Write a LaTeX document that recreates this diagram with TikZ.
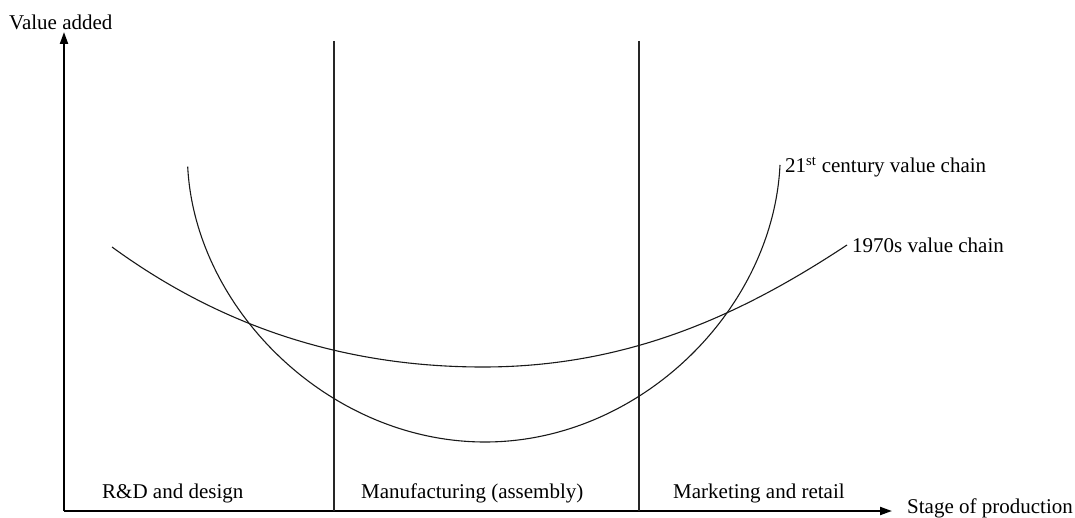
\documentclass[tikz,border=0pt]{standalone}
\usepackage{fontspec}
\setmainfont{Liberation Serif}
\usetikzlibrary{arrows.meta}
\begin{document}
\begin{tikzpicture}[x=1pt,y=-1pt,
  axis/.style={line width=2pt,-{Triangle[length=12pt,width=8pt]}},
  thin/.style={line width=1.1pt,draw=black!85},
  curve/.style={line width=1.1pt,draw=black!90},
  lbl/.style={font=\fontsize{21}{25}\selectfont,inner sep=0pt,anchor=base west}]
\useasboundingbox (0,0) rectangle (1075,518);
\coordinate (O) at (64,511);
\coordinate (ytip) at (64,32);
\coordinate (xtip) at (892,511);
\draw[axis] (O) -- (ytip);
\draw[axis] (O) -- (xtip);
\coordinate (d1t) at (334,41);
\coordinate (d1b) at (334,511);
\coordinate (d2t) at (639,41);
\coordinate (d2b) at (639,511);
\draw[thin] (d1t) -- (d1b);
\draw[thin] (d2t) -- (d2b);
% 21st century curve
\coordinate (a0) at (187.7,166.7);
\coordinate (am) at (485,442);
\coordinate (a1) at (780,165);
\draw[curve] (a0) .. controls (195,310) and (330,442) .. (am)
  .. controls (640,442) and (773,310) .. (a1);
% 1970s curve
\coordinate (b0) at (112,247);
\coordinate (bm) at (483,367);
\coordinate (b1) at (847,245);
\draw[curve] (b0) .. controls (212,320) and (333,367) .. (bm)
  .. controls (633,367) and (747,311) .. (b1);
\node[lbl] (vadd) at (9,30) {Value added};
\node[lbl] (stage) at (907,513) {Stage of production};
\node[lbl] (rd) at (102,498) {R\&D and design};
\node[lbl] (man) at (361,498) {Manufacturing (assembly)};
\node[lbl] (mkt) at (673,498) {Marketing and retail};
\node[lbl] (c21) at (785,173) {21\textsuperscript{st} century value chain};
\node[lbl] (c70) at (852,253) {1970s value chain};
\end{tikzpicture}
\end{document}
